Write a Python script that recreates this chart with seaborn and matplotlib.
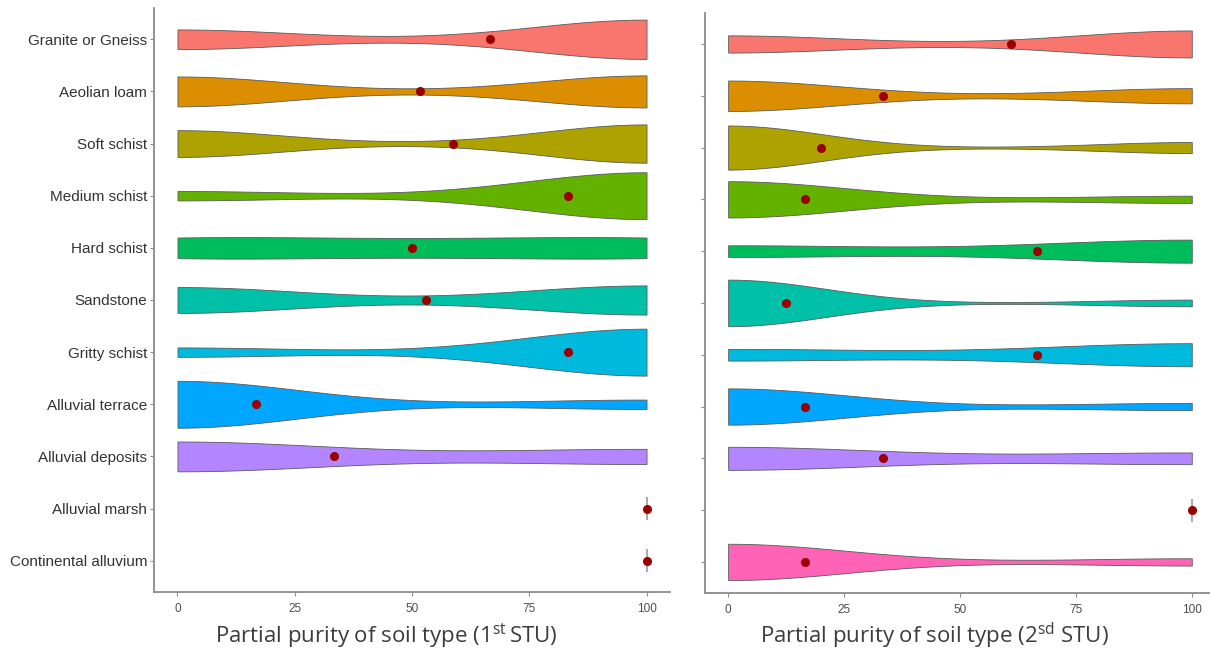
import numpy as np
import pandas as pd
import matplotlib
matplotlib.use("Agg")
import matplotlib.pyplot as plt
import seaborn as sns

# Configuration
OUTPUT_FILE = "out.png"

SOILS = ["Granite or Gneiss", "Aeolian loam", "Soft schist", "Medium schist",
         "Hard schist", "Sandstone", "Gritty schist", "Alluvial terrace",
         "Alluvial deposits", "Alluvial marsh", "Continental alluvium"]
# ggplot default hue palette for 11 groups
COLORS = ["#F8766D", "#DB8E00", "#AEA200", "#64B200", "#00BD5C", "#00C1A7",
          "#00BADE", "#00A6FF", "#B385FF", "#EF67EB", "#FF63B6"]

PURITY_LEVELS = [0, 50, 100]

# number of map units per purity level (1st STU)
N_AT_0_STU1 = [6, 14, 14, 1, 2, 8, 1, 5, 4, 0, 0]
N_AT_50_STU1 = [0, 0, 0, 0, 1, 0, 0, 0, 0, 0, 0]
N_AT_100_STU1 = [12, 15, 20, 5, 2, 9, 5, 1, 2, 1, 1]

# number of map units per purity level (2nd STU)
N_AT_0_STU2 = [7, 12, 16, 5, 2, 7, 2, 5, 4, 0, 5]
N_AT_50_STU2 = [0, 0, 0, 0, 0, 0, 0, 0, 0, 0, 0]
N_AT_100_STU2 = [11, 6, 4, 1, 4, 1, 4, 1, 2, 1, 1]

XTICKS = [0, 25, 50, 75, 100]


def build_frame(n0, n50, n100):
    """Expands the per-level counts into one row per observation."""
    rows = []
    for soil, counts in zip(SOILS, zip(n0, n50, n100)):
        for level, n in zip(PURITY_LEVELS, counts):
            rows += [(soil, level)] * n
    return pd.DataFrame(rows, columns=["soil", "purity"])


def draw_panel(ax, df, xlabel, show_labels, label_y):
    palette = dict(zip(SOILS, COLORS))

    # violins only for soils with some spread
    spread = df.groupby("soil")["purity"].nunique()
    multi = spread[spread > 1].index
    sns.violinplot(data=df[df["soil"].isin(multi)], x="purity", y="soil",
                   hue="soil", order=SOILS, hue_order=SOILS, palette=palette,
                   orient="y", cut=0, bw_adjust=0.9, density_norm="area",
                   common_norm=True, inner=None, width=0.9, saturation=1,
                   linewidth=0.6, linecolor="#5a5a5a", legend=False, ax=ax)

    # single-valued soils collapse to a vertical line
    for i, soil in enumerate(SOILS):
        vals = df.loc[df["soil"] == soil, "purity"]
        if len(vals) and vals.nunique() == 1:
            ax.vlines(vals.iloc[0], i - 0.22, i + 0.22, color="#9a9a9a",
                      linewidth=1.2, zorder=2)

    # mean purity
    sns.pointplot(data=df, x="purity", y="soil", order=SOILS, orient="y",
                  estimator="mean", errorbar=None, linestyle="none",
                  marker="o", color="#9B0000", markersize=4.5, ax=ax)

    ax.set_xlim(-5, 105)
    ax.set_ylim(10.6, -0.6)
    ax.set_xticks(XTICKS)
    ax.set_xticklabels([str(t) for t in XTICKS])
    ax.set_ylabel("")
    ax.set_xlabel(xlabel, fontsize=16, color="#3c3c3c", family="Open Sans")
    ax.xaxis.label.set_va("baseline")
    ax.xaxis.set_label_coords(0.45, label_y)
    ax.set_yticks(range(len(SOILS)))
    if show_labels:
        ax.set_yticklabels(SOILS, fontsize=11, color="#333333")
    else:
        ax.set_yticklabels([])

    for side in ["top", "right"]:
        ax.spines[side].set_visible(False)
    for side in ["left", "bottom"]:
        ax.spines[side].set_color("#8a8a8a")
        ax.spines[side].set_linewidth(1.3)
    ax.tick_params(axis="both", length=3, color="#8a8a8a", width=0.8)
    ax.tick_params(axis="x", labelsize=8.5, labelcolor="#4d4d4d", pad=5)
    ax.tick_params(axis="y", pad=2)
    ax.grid(False)


def main():
    sns.set_theme(style="ticks")
    plt.rcParams["font.family"] = ["Liberation Sans", "DejaVu Sans"]
    plt.rcParams["mathtext.fontset"] = "custom"
    plt.rcParams["mathtext.rm"] = "Open Sans"

    df1 = build_frame(N_AT_0_STU1, N_AT_50_STU1, N_AT_100_STU1)
    df2 = build_frame(N_AT_0_STU2, N_AT_50_STU2, N_AT_100_STU2)

    fig = plt.figure(figsize=(12.1, 6.54), dpi=100)
    ax1 = fig.add_axes([0.1273, 0.0948, 0.4264, 0.893])
    ax2 = fig.add_axes([0.5826, 0.0933, 0.4215, 0.887])

    draw_panel(ax1, df1, r"Partial purity of soil type (1$^{\mathrm{st}}\,$STU)",
               True, -0.0873)
    draw_panel(ax2, df2, r"Partial purity of soil type (2$^{\mathrm{sd}}$ STU)",
               False, -0.0862)

    fig.savefig(OUTPUT_FILE, dpi=100)
    plt.close(fig)


if __name__ == "__main__":
    main()
